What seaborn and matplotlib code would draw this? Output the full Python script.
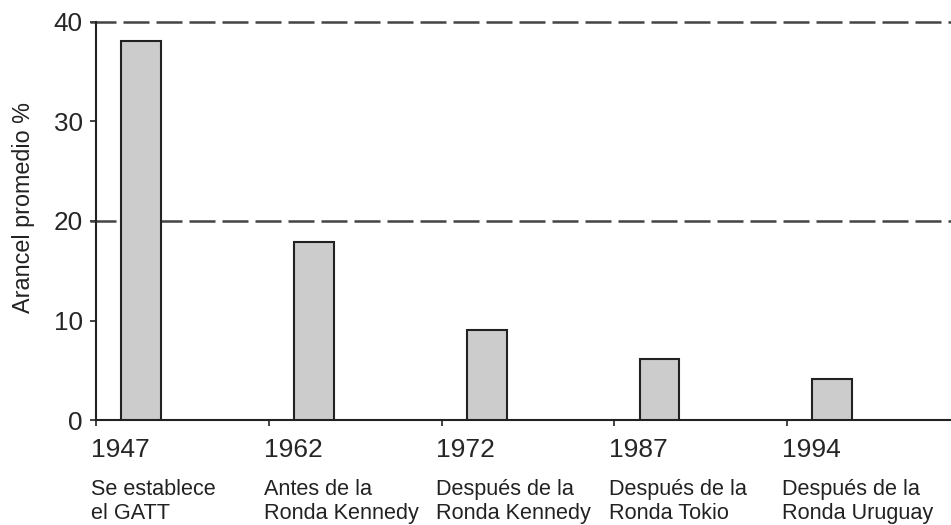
import numpy as np
import matplotlib
matplotlib.use("Agg")
import matplotlib.pyplot as plt
import matplotlib.transforms as mtransforms
import seaborn as sns

years = ["1947", "1962", "1972", "1987", "1994"]
descriptions = [
    "Se establece\nel GATT",
    "Antes de la\nRonda Kennedy",
    "Después de la\nRonda Kennedy",
    "Después de la\nRonda Tokio",
    "Después de la\nRonda Uruguay",
]
tariffs = [38.1, 17.9, 9.0, 6.1, 4.1]
ref_lines = [20, 40]
y_ticks = [0, 10, 20, 30, 40]

sns.set_style("ticks")
plt.rcParams["font.family"] = ["Liberation Sans", "DejaVu Sans"]

fig = plt.figure(figsize=(9.51, 5.25), dpi=100)
ax = fig.add_axes([96 / 951, 105 / 525, 855 / 951, 398 / 525])

ink = "#222222"

# bars sit a bit to the right of each tick
sns.barplot(x=years, y=tariffs, color="#cccccc", edgecolor=ink, linewidth=1.5,
            width=0.23, saturation=1, ax=ax, zorder=3)

offset = 0.262
ticks = np.arange(len(years)) - offset
ax.set_xticks(ticks)
ax.set_xticklabels(years, ha="left", fontsize=19)
ax.set_xlim(ticks[0], ticks[0] + 855 / 172.75)
ax.set_ylim(0, 40)
ax.set_yticks(y_ticks)
ax.tick_params(axis="y", labelsize=18.8, length=4.5, width=1.2, color=ink, pad=5)
ax.tick_params(axis="x", length=4.5, width=1.2, color=ink, pad=8.5)

shift = mtransforms.ScaledTranslation(-5 / 100, 0, fig.dpi_scale_trans)
for lab in ax.get_xticklabels():
    lab.set_transform(lab.get_transform() + shift)

# dashed reference lines
for y in ref_lines:
    ax.axhline(y, xmin=-6 / 855, xmax=1, color="#444444", lw=1.8,
               linestyle=(0, (10.4, 2.8)), clip_on=False, zorder=2)

trans = mtransforms.blended_transform_factory(ax.transData, ax.transAxes) + shift
for x, txt in zip(ticks, descriptions):
    ax.text(x, -0.148, txt, transform=trans, ha="left", va="top",
            fontsize=15.6, linespacing=1.2, color=ink)

ax.set_xlabel("")
ax.set_ylabel("Arancel promedio %", fontsize=16.8, color=ink)
ax.yaxis.set_label_coords(-0.071, 0.533)

sns.despine(ax=ax)
for side in ["left", "bottom"]:
    ax.spines[side].set_color(ink)
    ax.spines[side].set_linewidth(1.5)

fig.savefig("out.png", dpi=100)
